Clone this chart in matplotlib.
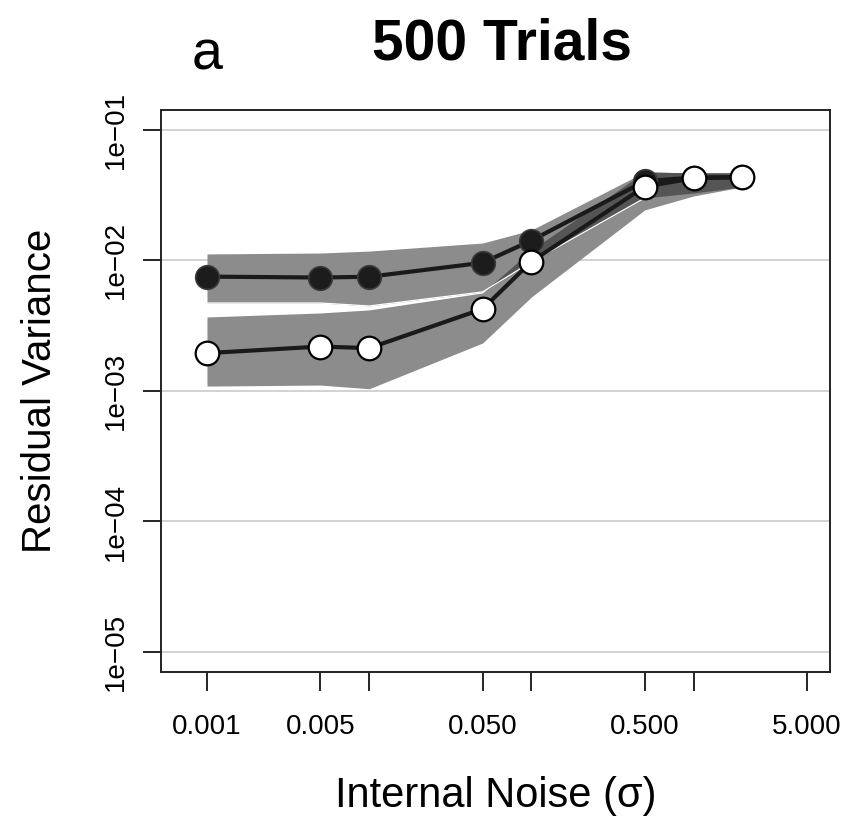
import matplotlib
matplotlib.use("Agg")
import matplotlib.pyplot as plt
import numpy as np

plt.rcParams["font.family"] = ["Liberation Sans", "DejaVu Sans"]

# internal noise levels (sigma)
noise = [0.001, 0.005, 0.01, 0.05, 0.1, 0.5, 1, 2]

# residual variance, filled (black) and open (white) series
filled_var = [0.00752, 0.0074, 0.0075, 0.0096, 0.0142, 0.0405, 0.0432, 0.0436]
open_var = [0.00195, 0.00219, 0.00213, 0.00425, 0.0098, 0.0368, 0.0427, 0.0433]

# shaded ranges around each series
filled_lo = [0.00472, 0.00472, 0.00448, 0.00574, 0.00975, 0.0301, 0.0329, 0.0366]
filled_hi = [0.01122, 0.0114, 0.0118, 0.0136, 0.0171, 0.0476, 0.0469, 0.0469]
open_lo = [0.00109, 0.00111, 0.00104, 0.00233, 0.00525, 0.0244, 0.0312, 0.0366]
open_hi = [0.00369, 0.00396, 0.00418, 0.00564, 0.0120, 0.0476, 0.0469, 0.0469]

x_ticks = [0.001, 0.005, 0.01, 0.05, 0.1, 0.5, 1, 5]
x_labels = ["0.001", "0.005", "", "0.050", "", "0.500", "", "5.000"]
y_ticks = [1e-5, 1e-4, 1e-3, 1e-2, 1e-1]
y_labels = ["1e\u221205", "1e\u221204", "1e\u221203", "1e\u221202", "1e\u221201"]

fig = plt.figure(figsize=(8.49, 8.17), dpi=100)
ax = fig.add_axes([0.1896, 0.1775, 0.788, 0.6879])
ax.set_xscale("log")
ax.set_yscale("log")
ax.set_xlim(10 ** -3.2836, 10 ** 0.8408)
ax.set_ylim(10 ** -5.153, 10 ** -0.847)

for t in y_ticks:
    ax.axhline(t, color="#cfcfcf", lw=1.3, zorder=0)

band_col = "#8c8c8c"
ax.fill_between(noise, filled_lo, filled_hi, color=band_col, lw=0, zorder=1)
ax.fill_between(noise, open_lo, open_hi, color=band_col, lw=0, zorder=1)
lo = np.maximum(filled_lo, open_lo)
hi = np.minimum(filled_hi, open_hi)
ax.fill_between(noise, lo, hi, where=hi > lo, interpolate=True,
                color="#555555", lw=0, zorder=2)
ax.plot(noise[:6], filled_lo[:6], color="white", lw=0.9, zorder=3)

ax.plot(noise, filled_var, color="#1a1a1a", lw=3, marker="o", ms=17,
        mfc="#1c1c1c", mec="#3a3a3a", mew=1.2, zorder=4)
ax.plot(noise, open_var, color="#1a1a1a", lw=3, marker="o", ms=17,
        mfc="white", mec="black", mew=1.6, zorder=5)

ax.set_xticks(x_ticks)
ax.set_xticklabels(x_labels, fontsize=20)
ax.set_yticks(y_ticks)
ax.set_yticklabels(y_labels, fontsize=20, rotation=90, va="center")
ax.minorticks_off()
ax.tick_params(axis="x", length=14, width=1.2, pad=16)
ax.tick_params(axis="y", length=13, width=1.2, pad=10)
for s in ax.spines.values():
    s.set_linewidth(1.4)
    s.set_color("#222222")

ax.set_xlabel("Internal Noise (\u03c3)", fontsize=30, labelpad=26)
ax.set_ylabel("Residual Variance", fontsize=29, labelpad=32)

fig.text(0.591, 0.945, "500 Trials", fontsize=41, fontweight="bold",
         ha="center", va="center")
fig.text(0.244, 0.932, "a", fontsize=40, ha="center", va="center")

fig.savefig("out.png", dpi=100)
